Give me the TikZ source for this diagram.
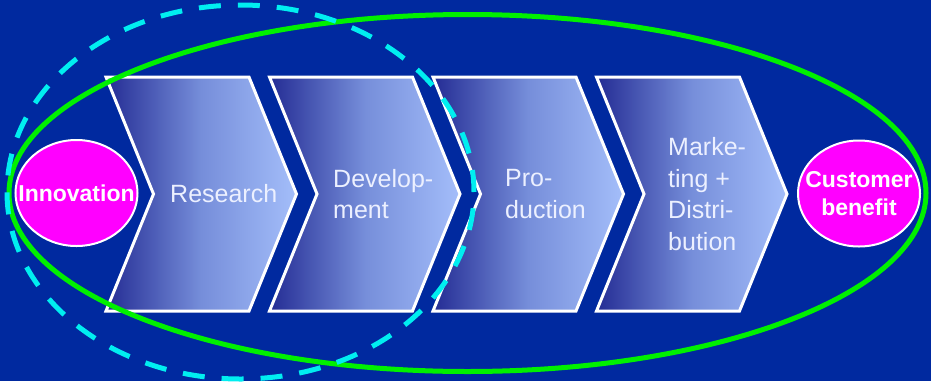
\documentclass[tikz,border=0pt]{standalone}
\usepackage{fontspec}
\setmainfont{Liberation Sans}
\usetikzlibrary{shapes.geometric}
\definecolor{bg}{RGB}{0,41,159}
\definecolor{chevdark}{RGB}{36,44,148}
\definecolor{chevmid}{RGB}{118,142,218}
\definecolor{chevlight}{RGB}{164,190,250}
\definecolor{lbltext}{RGB}{236,240,255}
\definecolor{magentafill}{RGB}{255,0,255}
\definecolor{ringgreen}{RGB}{0,240,0}
\definecolor{ringcyan}{RGB}{0,238,240}
\begin{document}
\begin{tikzpicture}[x=1pt,y=-1pt,
  chevron/.style={draw=white, line width=3pt, line join=miter, left color=chevdark, right color=chevlight, middle color=chevmid},
  steplabel/.style={text=lbltext, font=\fontsize{25}{31.7}\selectfont, align=left, anchor=west, inner sep=0pt},
  endshape/.style={ellipse, draw=white, line width=2pt, fill=magentafill, minimum width=122pt, minimum height=106pt, inner sep=0pt},
  endtext/.style={text=white, font=\fontsize{23}{28}\selectfont\bfseries, align=center, inner sep=0pt},
  greenring/.style={ellipse, draw=ringgreen, line width=5pt, inner sep=0pt},
  cyanring/.style={ellipse, draw=ringcyan, line width=5pt, dash pattern=on 22pt off 17pt, inner sep=0pt}]
\fill[bg] (0,0) rectangle (931,381);
\useasboundingbox (0,0) rectangle (931,381);
% chevrons
\foreach \x in {106,269.5,433,596.5}
  \path[chevron] (\x,77) -- ++(143,0) -- ++(47.5,117) -- ++(-47.5,117) -- ++(-143,0) -- ++(47.5,-117) -- cycle;
% labels
\node[steplabel] (research) at (170,194) {Research};
\node[steplabel] (development) at (333,194) {Develop-\\ment};
\node[steplabel] (production) at (505,194) {Pro-\\duction};
\node[steplabel] (marketing) at (668,194) {Marke-\\ting +\\Distri-\\bution};
% end points
\node[endshape] (innovation) at (76.5,193) {};
\node[endtext] (innovationtext) at (innovation) {Innovation};
\node[endshape] (benefit) at (859,193.5) {};
\node[endtext] (benefittext) at (benefit) {Customer\\benefit};
% rings
\node[greenring, minimum width=917pt, minimum height=357pt] (allsteps) at (467.5,193) {};
\node[cyanring, minimum width=467pt, minimum height=374pt] (earlysteps) at (240.5,192) {};
\end{tikzpicture}
\end{document}
